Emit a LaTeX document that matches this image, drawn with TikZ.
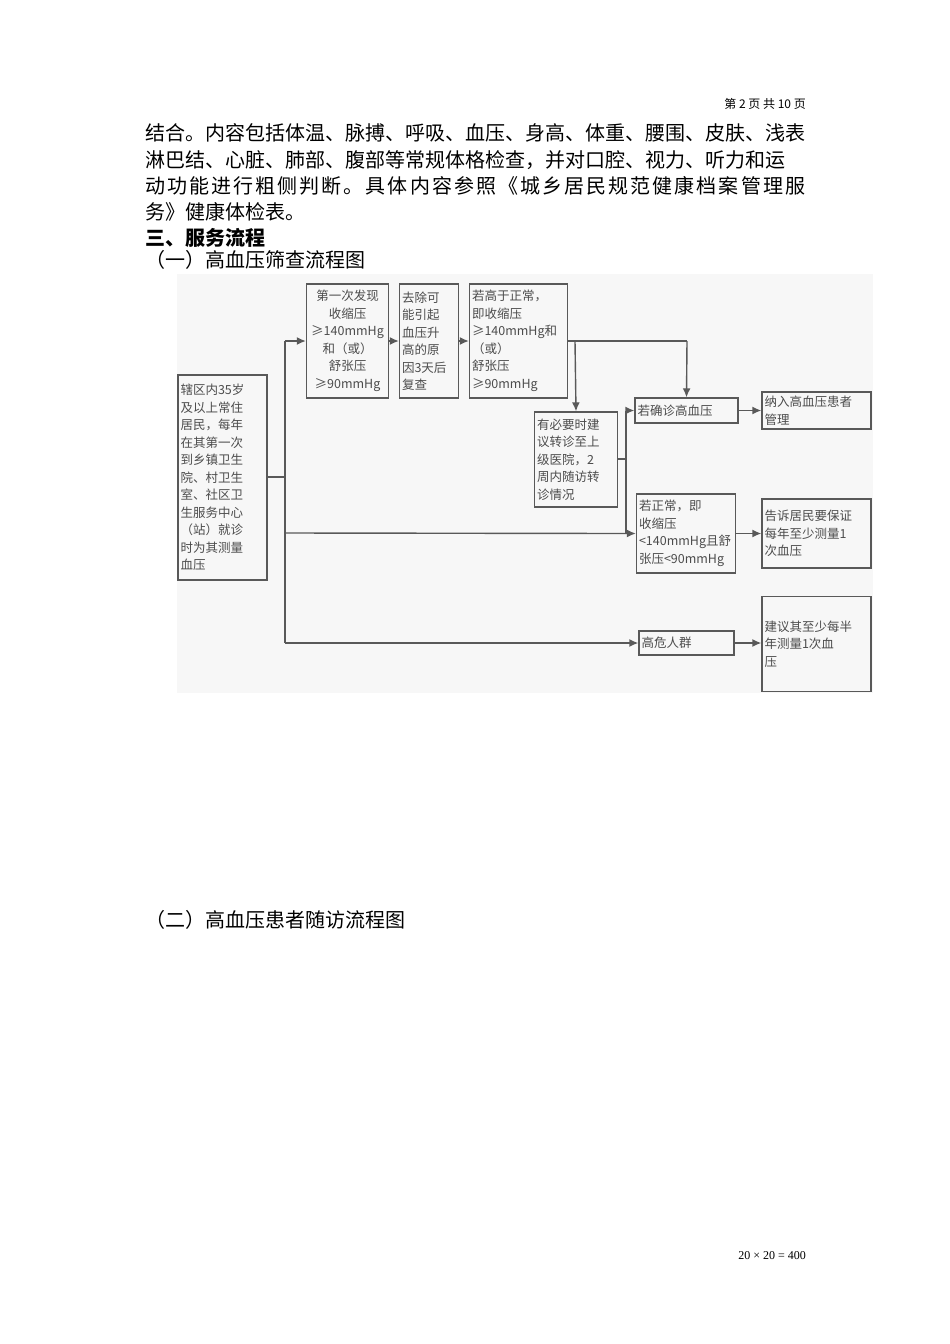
\documentclass[tikz,border=0pt]{standalone}
\usepackage{fontspec}
\setmainfont{Liberation Serif}
\newfontfamily\cjk{Noto Sans CJK SC}
\usetikzlibrary{arrows.meta}
\begin{document}
\begin{tikzpicture}[x=1pt,y=-1pt,
  bx/.style={draw=black!65,line width=1.4pt,fill=white!97!black,inner sep=2.5pt,text=black!70,
    font=\cjk\fontsize{12.5}{17.5}\selectfont},
  ln/.style={draw=black!65,line width=1.4pt},
  ar/.style={ln,-{Latex[length=9pt,width=8pt]}},
  body/.style={anchor=west,inner sep=0pt,font=\cjk\fontsize{20}{24}\selectfont}]
\useasboundingbox (0,0) rectangle (950,1344);
\fill[white] (0,0) rectangle (950,1344);
\node[anchor=east,inner sep=0pt,font=\cjk\fontsize{12}{14}\selectfont] (hd) at (806,104) {第 2 页 共 10 页};
\node[body] (l1) at (145,133) {结合。内容包括体温、脉搏、呼吸、血压、身高、体重、腰围、皮肤、浅表};
\node[body] (l2) at (145,160) {淋巴结、心脏、肺部、腹部等常规体格检查，并对口腔、视力、听力和运};
\node[body] (l3) at (145,186) {\makebox[660pt][s]{动\hfil 功\hfil 能\hfil 进\hfil 行\hfil 粗\hfil 侧\hfil 判\hfil 断\hfil 。\hfil 具\hfil 体\hfil 内\hfil 容\hfil 参\hfil 照\hfil 《\hfil 城\hfil 乡\hfil 居\hfil 民\hfil 规\hfil 范\hfil 健\hfil 康\hfil 档\hfil 案\hfil 管\hfil 理\hfil 服}};
\node[body] (l4) at (145,212) {务》健康体检表。};
\node[body,font=\cjk\bfseries\fontsize{20}{24}\selectfont] (l5) at (145,238) {三、服务流程};
\node[body] (l6) at (145,260) {（一）高血压筛查流程图};
\node[body] (l7) at (145,920) {（二）高血压患者随访流程图};
\node[anchor=east,inner sep=0pt,font=\fontsize{12}{14}\selectfont] (ft) at (806,1256) {20 × 20 = 400};
\fill[black!3] (177,274) rectangle (873,693);
\node[bx,minimum width=89pt,minimum height=205pt,text width=84pt,align=left] (A) at (222.5,477.5)
 {辖区内35岁\\及以上常住\\居民，每年\\在其第一次\\到乡镇卫生\\院、村卫生\\室、社区卫\\生服务中心\\（站）就诊\\时为其测量\\血压};
\node[bx,minimum width=81pt,minimum height=114pt,text width=77pt,align=center] (B) at (347.5,341)
 {第一次发现\\收缩压\\≥140mmHg\\和（或）\\舒张压\\≥90mmHg};
\node[bx,minimum width=58pt,minimum height=114pt,text width=54pt,align=left] (C) at (429,341)
 {去除可\\能引起\\血压升\\高的原\\因3天后\\复查};
\node[bx,minimum width=97pt,minimum height=114pt,text width=93pt,align=left] (D) at (518.5,341)
 {若高于正常，\\即收缩压\\≥140mmHg和\\（或）\\舒张压\\≥90mmHg};
\node[bx,minimum width=82pt,minimum height=95pt,text width=78pt,align=left] (E) at (576,459.5)
 {有必要时建\\议转诊至上\\级医院，2\\周内随访转\\诊情况};
\node[bx,minimum width=103pt,minimum height=25pt,text width=98pt,align=left] (F) at (686.5,410.5) {若确诊高血压};
\node[bx,minimum width=109pt,minimum height=37pt,text width=104pt,align=left] (G) at (816.5,410.5) {纳入高血压患者\\管理};
\node[bx,minimum width=98pt,minimum height=79pt,text width=94pt,align=left] (H) at (686,533.5)
 {若正常，即\\收缩压\\<140mmHg且舒\\张压<90mmHg};
\node[bx,minimum width=109pt,minimum height=69pt,text width=104pt,align=left] (I) at (816.5,533.5)
 {告诉居民要保证\\每年至少测量1\\次血压};
\node[bx,minimum width=95pt,minimum height=24pt,text width=90pt,align=left] (J) at (686.5,643) {高危人群};
\node[bx,minimum width=109pt,minimum height=95pt,text width=104pt,align=left,anchor=north] (K) at (816.5,596)
 {建议其至少每半\\年测量1次血\\压};
\coordinate (t0) at (285,477);
\coordinate (t1) at (285,341);
\coordinate (t2) at (285,643);
\coordinate (t3) at (285,533);
\coordinate (d1) at (575,341);
\coordinate (d2) at (687,341);
\coordinate (v0) at (626,459);
\coordinate (v1) at (626,410.5);
\coordinate (v2) at (626,533.5);
\draw[ln] (A.east |- t0) -- (t0);
\draw[ln] (t1) -- (t2);
\draw[ar] (t1) -- (B.west |- t1);
\draw[ar] (B.east |- t1) -- (C.west |- t1);
\draw[ar] (C.east |- t1) -- (D.west |- t1);
\draw[ln] (D.east |- d1) -- (d2);
\draw[ar] (d2) -- (F.north);
\draw[ar] (d1) -- (E.north);
\draw[ln] (E.east |- v0) -- (v0);
\draw[ln] (v1) -- (v2);
\draw[ar] (v1) -- (F.west);
\draw[ar] (t3) -- (v2) -- (H.west);
\draw[ar] (t2) -- (J.west);
\draw[ar] (F.east) -- (G.west);
\draw[ar] (H.east) -- (I.west);
\draw[ar] (J.east) -- (K.west |- J.east);
\end{tikzpicture}
\end{document}
